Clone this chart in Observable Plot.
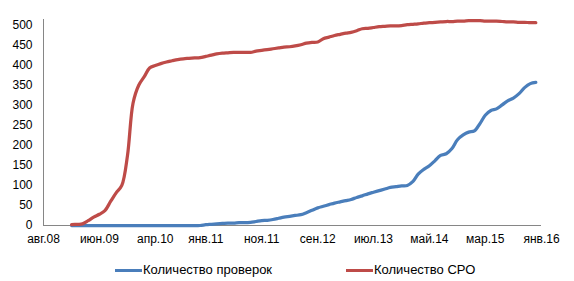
<!DOCTYPE html>
<html><head><meta charset="utf-8">
<script src="https://cdn.jsdelivr.net/npm/d3@7"></script>
<script src="https://cdn.jsdelivr.net/npm/@observablehq/plot@0.6"></script>
<style>
body{margin:0;background:#fff;font-family:"Liberation Sans",Arial,sans-serif;}
#chart{width:574px;height:281px;position:relative;overflow:hidden;background:#fff}
#legend{position:relative;height:31px;font-size:13px;color:#000}
.item{position:absolute;top:12px;display:flex;align-items:center;white-space:nowrap;line-height:16px}
.swatch{display:inline-block;width:27px;height:3px;margin-right:1px}
</style></head>
<body><div id="chart"></div>
<script>
const firstMonth = "2009-01-01";
const seriesNames = ["Количество проверок", "Количество СРО"];
const seriesColors = ["#4A7EBB", "#BE4B48"];
// monthly values, Jan 2009 .. Dec 2015
const checks = [
  0,0,0,0,0,0,0,0,0,0,0,0,
  0,0,0,0,0,0,0,0,0,0,0,0,
  2,3,4,5,6,6,7,7,8,10,12,13,
  15,18,21,23,25,27,32,38,44,48,52,56,
  59,62,65,70,74,79,83,87,91,95,97,99,
  100,110,128,140,149,162,175,179,192,214,226,233,
  236,255,275,287,291,301,311,318,329,344,354,357
];
const sro = [
  2,3,4,12,21,28,37,60,82,100,175,305,
  350,372,393,399,404,408,411,414,416,417,418,419,
  422,425,428,430,431,432,432,432,432,435,437,439,
  441,443,445,446,448,451,455,457,458,466,470,474,
  477,480,482,486,491,492,494,496,497,498,498,499,
  501,502,503,505,506,507,508,509,509,510,510,511,
  511,511,510,510,510,509,508,508,507,507,506,506
];
const tickDates = ["2008-08-01","2009-06-01","2010-04-01","2011-01-01","2011-11-01","2012-09-01","2013-07-01","2014-05-01","2015-03-01","2016-01-01"];
const tickLabels = ["авг.08","июн.09","апр.10","янв.11","ноя.11","сен.12","июл.13","май.14","мар.15","янв.16"];
const yTicks = [0,50,100,150,200,250,300,350,400,450,500];
const xDomain = ["2008-08-01","2016-01-01"];
const yDomain = [0, 514];

const start = new Date(firstMonth);
const months = d3.utcMonth.range(start, d3.utcMonth.offset(start, checks.length));
const checksData = months.map((d, i) => ({date: d, value: checks[i]}));
const sroData = months.map((d, i) => ({date: d, value: sro[i]}));
const tDates = tickDates.map(s => new Date(s));
const labelOf = new Map(tDates.map((d, i) => [+d, tickLabels[i]]));

const plot = Plot.plot({
  width: 574,
  height: 250,
  marginLeft: 43,
  marginRight: 33,
  marginTop: 19,
  marginBottom: 25,
  style: {fontFamily: '"Liberation Sans", Arial, sans-serif', fontSize: "12px", color: "#000", background: "#fff"},
  x: {type: "utc", domain: xDomain.map(s => new Date(s))},
  y: {domain: yDomain},
  marks: [
    Plot.ruleY([0], {stroke: "#868686", strokeWidth: 1}),
    Plot.ruleX([new Date(xDomain[0])], {stroke: "#868686", strokeWidth: 1}),
    Plot.axisY(yTicks, {tickSize: 0, tickPadding: 11, fontSize: 12, fill: "#000", label: null}),
    Plot.axisX(tDates, {tickSize: 0, tickPadding: 9, fontSize: 12, fill: "#000", label: null, tickFormat: d => labelOf.get(+d)}),
    Plot.line(checksData, {x: "date", y: "value", stroke: seriesColors[0], strokeWidth: 3.25, curve: "catmull-rom"}),
    Plot.line(sroData, {x: "date", y: "value", stroke: seriesColors[1], strokeWidth: 3.25, curve: "catmull-rom"})
  ]
});
const chart = document.getElementById("chart");
chart.appendChild(plot);

const legend = document.createElement("div");
legend.id = "legend";
const lefts = [115, 346];
seriesNames.forEach((name, i) => {
  const it = document.createElement("div");
  it.className = "item";
  it.style.left = lefts[i] + "px";
  const sw = document.createElement("span");
  sw.className = "swatch";
  sw.style.background = seriesColors[i];
  const tx = document.createElement("span");
  tx.textContent = name;
  it.appendChild(sw); it.appendChild(tx);
  legend.appendChild(it);
});
chart.appendChild(legend);
</script>
</body></html>
